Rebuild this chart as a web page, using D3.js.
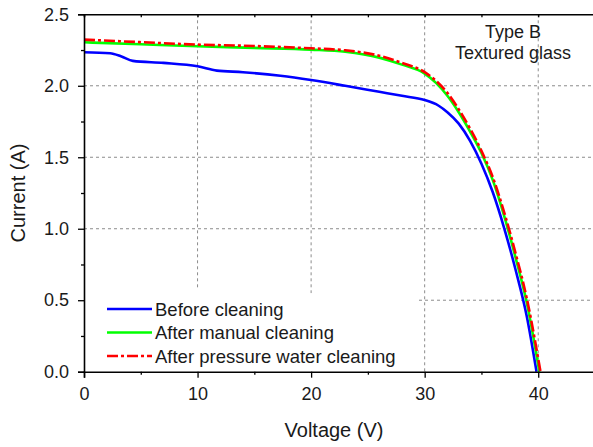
<!DOCTYPE html>
<html>
<head>
<meta charset="utf-8">
<script src="https://cdn.jsdelivr.net/npm/d3@7"></script>
<style>
  body { margin: 0; background: #fff; }
  svg { display: block; font-family: "Liberation Sans", Arial, sans-serif; }
</style>
</head>
<body>
<div id="chart"></div>
<script>
const width = 593;
const height = 447;

// I-V curves
const vBefore = [0, 2.3, 3.3, 4.3, 7, 10, 11.7, 14, 17.3, 20, 23, 26, 28, 30, 31.2, 32, 33, 34, 35, 36, 37, 38, 39, 39.85];
const iBefore = [2.235, 2.228, 2.205, 2.174, 2.16, 2.136, 2.106, 2.095, 2.07, 2.04, 2.0, 1.958, 1.93, 1.9, 1.862, 1.815, 1.735, 1.615, 1.455, 1.255, 1.005, 0.715, 0.385, 0];

const vManual = [0, 5, 10, 15, 20, 23, 26, 28, 30, 31, 32, 33, 34, 35, 36, 37, 38, 39, 40.1];
const iManual = [2.304, 2.29, 2.276, 2.265, 2.253, 2.238, 2.197, 2.148, 2.085, 2.02, 1.93, 1.815, 1.68, 1.53, 1.34, 1.09, 0.8, 0.48, 0];

const vPressure = [0, 5, 10, 15, 20, 23, 26, 28, 30, 31, 32, 33, 34, 35, 36, 37, 38, 39, 40.2];
const iPressure = [2.323, 2.305, 2.288, 2.278, 2.262, 2.248, 2.21, 2.16, 2.095, 2.035, 1.95, 1.835, 1.70, 1.545, 1.36, 1.115, 0.83, 0.51, 0];

const seriesNames = ["Before cleaning", "After manual cleaning", "After pressure water cleaning"];
const xTicks = [0, 10, 20, 30, 40];
const yTicks = [0, 0.5, 1.0, 1.5, 2.0, 2.5];

const series = [
    { name: seriesNames[0], v: vBefore, i: iBefore, color: "#0000ff", dash: null },
    { name: seriesNames[1], v: vManual, i: iManual, color: "#00ff00", dash: null },
    { name: seriesNames[2], v: vPressure, i: iPressure, color: "#ff0000", dash: "11,3,3,3" }
];

const svg = d3.select("#chart")
    .append("svg")
    .attr("width", width)
    .attr("height", height);

const x = d3.scaleLinear().domain([0, 45]).range([84, 595]);
const y = d3.scaleLinear().domain([0, 2.5]).range([371.7, 14.3]);

// grid (partly hidden behind the legend, like the original)
const grid = svg.append("g")
    .attr("stroke", "#8c8c8c")
    .attr("stroke-width", 1)
    .attr("stroke-dasharray", "3,3");

const vGrid = [[10, 0.57], [20, 0.55], [30, 0], [40, 0]];
vGrid.forEach(([gx, bottom]) => {
    grid.append("line")
        .attr("x1", x(gx)).attr("x2", x(gx))
        .attr("y1", y(2.5)).attr("y2", y(bottom));
});
const hGrid = [[2.0, 0], [1.5, 0], [1.0, 0], [0.5, 29.5]];
hGrid.forEach(([gy, left]) => {
    grid.append("line")
        .attr("x1", x(left)).attr("x2", x(45))
        .attr("y1", y(gy)).attr("y2", y(gy));
});

// curves
const line = d3.line()
    .x(d => x(d[0]))
    .y(d => y(d[1]))
    .curve(d3.curveMonotoneX);

series.forEach(s => {
    svg.append("path")
        .datum(s.v.map((v, k) => [v, s.i[k]]))
        .attr("d", line)
        .attr("fill", "none")
        .attr("stroke", s.color)
        .attr("stroke-width", 2.6)
        .attr("stroke-dasharray", s.dash);
});

// axes
svg.append("g")
    .attr("transform", `translate(0,${y(0)})`)
    .call(d3.axisBottom(x).tickValues(xTicks).tickFormat(d3.format("d")).tickSize(6).tickPadding(10));
svg.append("g")
    .attr("transform", `translate(0,${y(0)})`)
    .call(d3.axisBottom(x).tickValues([5, 15, 25, 35]).tickFormat("").tickSize(3))
    .call(g => g.select(".domain").remove());

svg.append("g")
    .attr("transform", `translate(${x(0)},0)`)
    .call(d3.axisLeft(y).tickValues(yTicks).tickFormat(d3.format(".1f")).tickSize(6).tickPadding(9));
svg.append("g")
    .attr("transform", `translate(${x(0)},0)`)
    .call(d3.axisLeft(y).tickValues([0.25, 0.75, 1.25, 1.75, 2.25]).tickFormat("").tickSize(3))
    .call(g => g.select(".domain").remove());

svg.append("g")
    .attr("transform", `translate(0,${y(2.5)})`)
    .call(d3.axisTop(x).tickValues([5, 10, 15, 20, 25, 30, 35, 40]).tickFormat("").tickSize(-3));

svg.selectAll(".domain").attr("stroke", "#000").attr("stroke-width", 1.6);
svg.selectAll(".tick line").attr("stroke", "#000").attr("stroke-width", 1.3);
svg.selectAll(".tick text")
    .attr("fill", "#1a1a1a")
    .style("font-size", "18px")
    .style("font-family", "'Liberation Sans', Arial, sans-serif");

// axis titles
svg.append("text")
    .attr("x", 334)
    .attr("y", 437)
    .attr("text-anchor", "middle")
    .style("font-size", "20px")
    .attr("fill", "#1a1a1a")
    .text("Voltage (V)");

svg.append("text")
    .attr("transform", `translate(25,${(y(0) + y(2.5)) / 2}) rotate(-90)`)
    .attr("text-anchor", "middle")
    .style("font-size", "20px")
    .attr("fill", "#1a1a1a")
    .text("Current (A)");

// annotation
const note = svg.append("text")
    .attr("text-anchor", "middle")
    .style("font-size", "18px")
    .attr("fill", "#1a1a1a");
note.append("tspan").attr("x", 513).attr("y", 38).text("Type B");
note.append("tspan").attr("x", 513).attr("y", 59).text("Textured glass");

// legend
const legend = svg.append("g");
series.forEach((s, k) => {
    const ly = 309 + k * 23.5;
    legend.append("line")
        .attr("x1", 107).attr("x2", 152)
        .attr("y1", ly).attr("y2", ly)
        .attr("stroke", s.color)
        .attr("stroke-width", 2.6)
        .attr("stroke-dasharray", s.dash);
    legend.append("text")
        .attr("x", 155)
        .attr("y", ly + 6.5)
        .style("font-size", "18.5px")
        .attr("fill", "#1a1a1a")
        .text(s.name);
});
</script>
</body>
</html>
